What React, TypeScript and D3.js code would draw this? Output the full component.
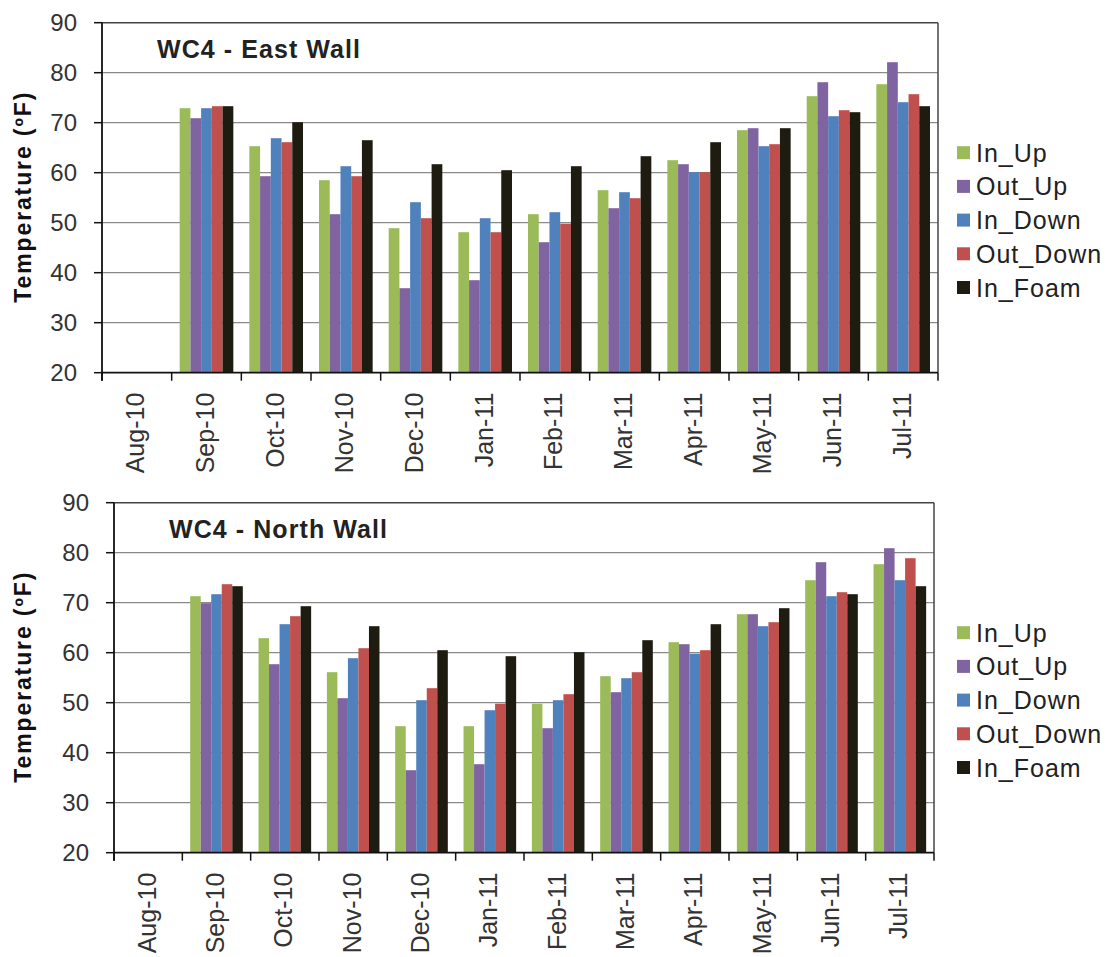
import { scaleBand, scaleLinear } from "d3";

const months = ["Aug-10", "Sep-10", "Oct-10", "Nov-10", "Dec-10", "Jan-11", "Feb-11", "Mar-11", "Apr-11", "May-11", "Jun-11", "Jul-11"];
const seriesNames = ["In_Up", "Out_Up", "In_Down", "Out_Down", "In_Foam"];
const seriesColors = ["#9bbb59", "#8064a2", "#4f81bd", "#c0504d", "#1e1b11"];
const yTicks = [20, 30, 40, 50, 60, 70, 80, 90];

// East wall
const eastInUp = [null, 72.9, 65.3, 58.5, 48.9, 48.1, 51.7, 56.5, 62.5, 68.5, 75.3, 77.7];
const eastOutUp = [null, 70.9, 59.3, 51.7, 36.9, 38.5, 46.1, 52.9, 61.7, 68.9, 78.1, 82.1];
const eastInDown = [null, 72.9, 66.9, 61.3, 54.1, 50.9, 52.1, 56.1, 60.1, 65.3, 71.3, 74.1];
const eastOutDown = [null, 73.3, 66.1, 59.3, 50.9, 48.1, 49.8, 54.9, 60.1, 65.7, 72.5, 75.7];
const eastInFoam = [null, 73.3, 70.1, 66.5, 61.7, 60.5, 61.3, 63.3, 66.1, 68.9, 72.1, 73.3];

// North wall
const northInUp = [null, 71.3, 62.9, 56.1, 45.3, 45.3, 49.8, 55.3, 62.1, 67.7, 74.5, 77.7];
const northOutUp = [null, 69.9, 57.7, 50.9, 36.5, 37.7, 44.9, 52.1, 61.7, 67.7, 78.1, 80.9];
const northInDown = [null, 71.7, 65.7, 58.9, 50.5, 48.5, 50.5, 54.9, 59.8, 65.3, 71.3, 74.5];
const northOutDown = [null, 73.7, 67.3, 60.9, 52.9, 49.8, 51.7, 56.1, 60.5, 66.1, 72.1, 78.9];
const northInFoam = [null, 73.3, 69.3, 65.3, 60.5, 59.3, 60.1, 62.5, 65.7, 68.9, 71.7, 73.3];

const font = "'Liberation Sans', Arial, sans-serif";

type PanelProps = {
  title: string;
  titleLength: number;
  series: (number | null)[][];
  left: number;
  right: number;
  top: number;
  bottom: number;
};

function Panel({ title, titleLength, series, left, right, top, bottom }: PanelProps) {
  const x = scaleBand<string>().domain(months).range([left, right]);
  const step = x.bandwidth();
  const inner = scaleBand<string>()
    .domain(seriesNames)
    .range([step * 0.115, step * 0.885]);
  const y = scaleLinear().domain([20, 90]).range([bottom, top]);
  const midY = (top + bottom) / 2;

  return (
    <g>
      {/* gridlines */}
      {yTicks.slice(1, -1).map((t) => (
        <line key={t} x1={left} x2={right} y1={y(t)} y2={y(t)} stroke="#8a8a8a" strokeWidth={1.2} />
      ))}

      {/* bars */}
      {series.map((vals, si) =>
        vals.map((v, i) =>
          v == null ? null : (
            <rect
              key={`${si}-${i}`}
              x={(x(months[i]) ?? 0) + (inner(seriesNames[si]) ?? 0)}
              y={y(v)}
              width={inner.bandwidth()}
              height={bottom - y(v)}
              fill={seriesColors[si]}
            />
          )
        )
      )}

      {/* frame */}
      <line x1={left} x2={right} y1={top} y2={top} stroke="#444" strokeWidth={1.5} />
      <line x1={right} x2={right} y1={top} y2={bottom} stroke="#444" strokeWidth={1.5} />
      <line x1={left} x2={left} y1={top} y2={bottom + 8} stroke="#111" strokeWidth={1.8} />
      <line x1={left} x2={right} y1={bottom} y2={bottom} stroke="#111" strokeWidth={1.8} />

      {/* y ticks */}
      {yTicks.map((t) => (
        <g key={t}>
          <line x1={left - 8} x2={left} y1={y(t)} y2={y(t)} stroke="#111" strokeWidth={1.5} />
          <text x={left - 25} y={y(t)} dy="0.36em" textAnchor="end" fontSize={24} fill="#333" fontFamily={font}>
            {t}
          </text>
        </g>
      ))}

      {/* x ticks */}
      {[...months.map((m) => x(m) ?? 0), right].map((px, i) => (
        <line key={i} x1={px} x2={px} y1={bottom} y2={bottom + 8} stroke="#111" strokeWidth={1.5} />
      ))}
      {months.map((m) => (
        <text
          key={m}
          transform={`translate(${(x(m) ?? 0) + step / 2},${bottom + 20}) rotate(-90)`}
          dy="0.3em"
          textAnchor="end"
          fontSize={25}
          fill="#333"
          fontFamily={font}
        >
          {m}
        </text>
      ))}

      {/* y title */}
      <text
        transform={`translate(31,${midY}) rotate(-90)`}
        textAnchor="middle"
        fontSize={23}
        fontWeight="bold"
        fill="#111"
        fontFamily={font}
        textLength={210}
        lengthAdjust="spacing"
      >
        Temperature (ºF)
      </text>

      {/* panel title */}
      <text
        x={left + 55}
        y={top + 35}
        fontSize={25}
        fontWeight="bold"
        fill="#222"
        fontFamily={font}
        textLength={titleLength}
        lengthAdjust="spacing"
      >
        {title}
      </text>

      {/* legend */}
      {seriesNames.map((name, i) => {
        const cy = top + 130 + i * 33.7;
        return (
          <g key={name}>
            <rect x={957} y={cy - 6.5} width={13} height={13} fill={seriesColors[i]} />
            <text x={976} y={cy} dy="0.36em" fontSize={25} letterSpacing={1} fill="#222" fontFamily={font}>
              {name}
            </text>
          </g>
        );
      })}
    </g>
  );
}

export default function App() {
  return (
    <svg
      width={1106}
      height={957}
      style={{ position: "absolute", left: 0, top: 0, background: "#fff" }}
    >
      <Panel
        title="WC4 - East Wall"
        titleLength={203}
        series={[eastInUp, eastOutUp, eastInDown, eastOutDown, eastInFoam]}
        left={102}
        right={938}
        top={22.7}
        bottom={372.7}
      />
      <Panel
        title="WC4 - North Wall"
        titleLength={218}
        series={[northInUp, northOutUp, northInDown, northOutDown, northInFoam]}
        left={114}
        right={934}
        top={502.7}
        bottom={852.7}
      />
    </svg>
  );
}
